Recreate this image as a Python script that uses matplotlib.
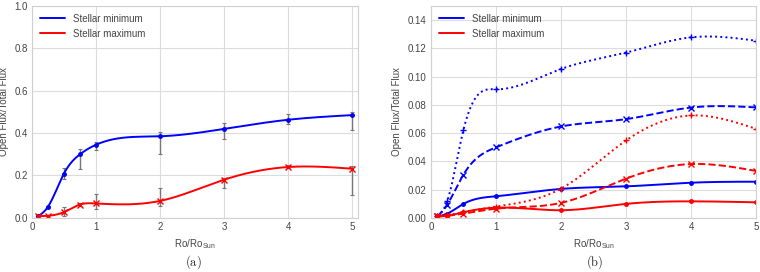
import numpy as np
import matplotlib
matplotlib.use("Agg")
import matplotlib.pyplot as plt

# panel (a): open flux fraction with error bars
x_a = [0.1, 0.25, 0.5, 0.75, 1, 2, 3, 4, 5]
min_a = [0.008, 0.052, 0.209, 0.300, 0.345, 0.385, 0.420, 0.463, 0.485]
min_a_lo = [0.008, 0.045, 0.185, 0.230, 0.320, 0.300, 0.370, 0.445, 0.415]
min_a_hi = [0.008, 0.058, 0.235, 0.325, 0.360, 0.405, 0.450, 0.490, 0.500]
max_a = [0.008, 0.010, 0.027, 0.063, 0.068, 0.080, 0.180, 0.240, 0.232]
max_a_lo = [0.008, 0.010, 0.010, 0.055, 0.040, 0.055, 0.140, 0.235, 0.110]
max_a_hi = [0.008, 0.010, 0.050, 0.070, 0.115, 0.140, 0.190, 0.250, 0.245]

# panel (b): three cases per stellar phase
x_b = [0.1, 0.25, 0.5, 1, 2, 3, 4, 5]
min_solid = [0.001, 0.003, 0.0099, 0.0153, 0.0205, 0.0223, 0.0249, 0.0256]
min_dash = [0.001, 0.0094, 0.0306, 0.0499, 0.0647, 0.0699, 0.0781, 0.0782]
min_dot = [0.001, 0.0117, 0.0623, 0.0910, 0.1054, 0.1170, 0.1278, 0.1254]
max_solid = [0.001, 0.0015, 0.0040, 0.0072, 0.0054, 0.0099, 0.0117, 0.0110]
max_dash = [0.001, 0.0015, 0.0030, 0.0065, 0.0106, 0.0278, 0.0381, 0.0332]
max_dot = [0.001, 0.0020, 0.0040, 0.0080, 0.0207, 0.0548, 0.0725, 0.0630]


def spline(x, y, n=300):
    # natural cubic spline through the points, for the smooth curves
    x = np.asarray(x, float)
    y = np.asarray(y, float)
    k = len(x)
    h = np.diff(x)
    A = np.zeros((k, k))
    r = np.zeros(k)
    A[0, 0] = A[-1, -1] = 1
    for i in range(1, k - 1):
        A[i, i - 1] = h[i - 1]
        A[i, i] = 2 * (h[i - 1] + h[i])
        A[i, i + 1] = h[i]
        r[i] = 6 * ((y[i + 1] - y[i]) / h[i] - (y[i] - y[i - 1]) / h[i - 1])
    m = np.linalg.solve(A, r)
    xs = np.linspace(x[0], x[-1], n)
    j = np.clip(np.searchsorted(x, xs) - 1, 0, k - 2)
    t0 = xs - x[j]
    t1 = x[j + 1] - xs
    hj = h[j]
    ys = (m[j] * t1**3 + m[j + 1] * t0**3) / (6 * hj) \
        + (y[j] / hj - m[j] * hj / 6) * t1 + (y[j + 1] / hj - m[j + 1] * hj / 6) * t0
    return xs, ys


plt.style.use("seaborn-v0_8-whitegrid")
plt.rcParams["font.family"] = ["Liberation Sans", "DejaVu Sans"]
plt.rcParams["mathtext.fontset"] = "cm"

fig = plt.figure(figsize=(7.6, 2.72), dpi=100)
ax1 = fig.add_axes([0.042, 0.199, 0.429, 0.779])
ax2 = fig.add_axes([0.567, 0.199, 0.428, 0.779])

txt = "#444444"
for ax in (ax1, ax2):
    ax.grid(True, color="#dcdcdc", linewidth=0.8)
    for s in ax.spines.values():
        s.set_visible(True)
        s.set_color("#d0d0d0")
        s.set_linewidth(0.8)
    ax.tick_params(labelsize=7, colors=txt, length=0, pad=3)
    ax.set_xlabel(r"Ro/Ro$_{\mathregular{Sun}}$", fontsize=7, color=txt, labelpad=4)
    ax.set_ylabel("Open Flux/Total Flux", fontsize=7, color=txt, labelpad=4)

# panel (a)
err_min = [np.subtract(min_a, min_a_lo), np.subtract(min_a_hi, min_a)]
err_max = [np.subtract(max_a, max_a_lo), np.subtract(max_a_hi, max_a)]
ax1.errorbar(x_a, min_a, yerr=err_min, fmt="none", ecolor="#777777", elinewidth=1.0, capsize=1.5, capthick=0.8)
ax1.errorbar(x_a, max_a, yerr=err_max, fmt="none", ecolor="#777777", elinewidth=1.0, capsize=1.5, capthick=0.8)
xs, ys = spline(x_a, min_a)
ax1.plot(xs, ys, color="blue", lw=1.4, label="Stellar minimum")
ax1.plot(x_a, min_a, ".", color="blue", ms=5)
xs, ys = spline(x_a, max_a)
ax1.plot(xs, ys, color="red", lw=1.4, label="Stellar maximum")
ax1.plot(x_a, max_a, "x", color="red", ms=5, mew=1.0)
ax1.set_xlim(0, 5.09)
ax1.set_ylim(0, 1.0)
ax1.set_yticks([0, 0.2, 0.4, 0.6, 0.8, 1.0])
ax1.set_yticklabels(["0.0", "0.2", "0.4", "0.6", "0.8", "1.0"])
ax1.set_xticks([0, 1, 2, 3, 4, 5])

# panel (b)
series = [
    (min_solid, "blue", "-", "."),
    (min_dash, "blue", "--", "x"),
    (min_dot, "blue", ":", "+"),
    (max_solid, "red", "-", "."),
    (max_dash, "red", "--", "x"),
    (max_dot, "red", ":", "+"),
]
for yv, c, ls, mk in series:
    xs, ys = spline(x_b, yv)
    ax2.plot(xs, ys, color=c, ls=ls, lw=1.4)
    ax2.plot(x_b, yv, mk, color=c, ms=5, mew=1.0)
ax2.plot([], [], color="blue", lw=1.4, label="Stellar minimum")
ax2.plot([], [], color="red", lw=1.4, label="Stellar maximum")
ax2.set_xlim(0, 5)
ax2.set_ylim(0, 0.15)
ax2.set_yticks(np.arange(0, 0.141, 0.02))
ax2.set_yticklabels(["%.2f" % v for v in np.arange(0, 0.141, 0.02)])
ax2.set_xticks([0, 1, 2, 3, 4, 5])

for ax in (ax1, ax2):
    leg = ax.legend(loc="upper left", fontsize=7, frameon=False, handlelength=2.6,
                    borderaxespad=0.4, labelspacing=0.5)
    for t in leg.get_texts():
        t.set_color(txt)

fig.text(0.255, 0.025, r"$\mathrm{(a)}$", ha="center", fontsize=9)
fig.text(0.783, 0.025, r"$\mathrm{(b)}$", ha="center", fontsize=9)

fig.savefig("out.png", dpi=100)
